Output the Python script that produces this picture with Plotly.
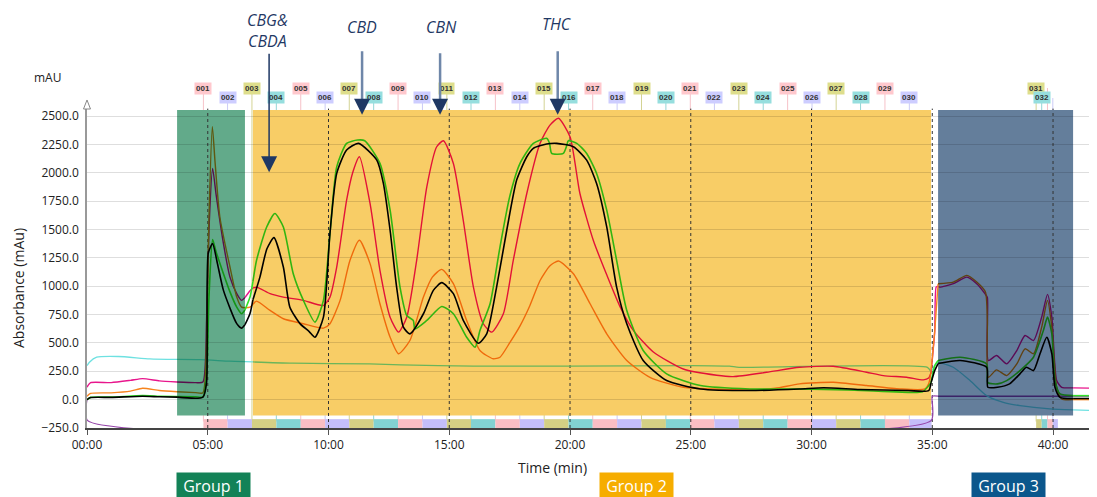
import plotly.graph_objects as go

# ---------------- data ----------------
time_ticks = [0, 5, 10, 15, 20, 25, 30, 35, 40]
time_labels = ["00:00", "05:00", "10:00", "15:00", "20:00", "25:00", "30:00", "35:00", "40:00"]

pink_t = [0, 0.15, 1.0, 1.8, 2.3, 3.0, 3.73, 4.5, 4.8, 4.95,
          5.05, 5.2, 5.35, 5.65, 5.92, 6.2, 6.4, 6.54, 6.75, 6.87,
          7.05, 7.58, 8.13, 8.96, 9.79, 10.06, 10.34, 10.75, 11.0, 11.28,
          11.72, 12.13, 12.55, 12.9, 13.24, 13.65, 14.07, 14.48, 14.76, 15.17,
          15.58, 16.0, 16.41, 16.76, 17.24, 17.65, 18.21, 18.76, 19.17, 19.52,
          20.0, 20.41, 20.97, 21.52, 22.07, 22.62, 23.45, 24.69, 26.07, 26.75,
          28.14, 29.5, 30.9, 32.28, 32.97, 33.94, 34.63, 34.85, 34.95, 35.1,
          35.16, 35.24, 35.3, 35.87, 36.43, 36.84, 37.18, 37.28, 37.32, 37.66,
          38.08, 38.5, 38.84, 39.19, 39.53, 39.77, 39.95, 40.15, 40.36, 40.83,
          41.82]
pink_v = [110, 150, 150, 170, 185, 165, 155, 150, 155, 700,
          1500, 2038, 1800, 1375, 1080, 934, 875, 900, 960, 985,
          990, 934, 904, 875, 830, 904, 1169, 1758, 2000, 2141,
          1729, 1140, 727, 595, 727, 1228, 1876, 2229, 2282, 2082,
          1581, 992, 669, 595, 757, 1228, 1817, 2259, 2420, 2480,
          2317, 1817, 1400, 1100, 820, 610, 420, 270, 215, 203,
          241, 285, 294, 241, 212, 197, 174, 190, 240, 600,
          992, 1000, 992, 1022, 1080, 1022, 934, 900, 345, 389,
          315, 433, 565, 521, 727, 928, 727, 168, 109, 104,
          100]

green_t = [0, 0.15, 1.0, 2.3, 3.0, 3.73, 4.5, 4.8, 4.95, 5.05,
           5.2, 5.35, 5.65, 5.92, 6.2, 6.4, 6.54, 6.75, 6.87, 7.02,
           7.44, 7.78, 8.13, 8.54, 8.96, 9.44, 9.79, 10.06, 10.34, 10.75,
           11.2, 11.5, 12.13, 12.55, 12.96, 13.24, 13.51, 13.58, 14.07, 14.69,
           15.17, 15.72, 16.07, 16.27, 16.69, 17.1, 17.5, 17.93, 18.48, 19.03,
           19.15, 19.24, 19.72, 19.85, 19.93, 20.28, 20.69, 21.1, 21.52, 21.93,
           22.35, 23.03, 24.0, 25.4, 27.45, 29.5, 31.5, 33.5, 34.6, 34.95,
           35.1, 35.24, 36.15, 37.25, 37.3, 37.7, 38.08, 38.63, 39.19, 39.6,
           39.77, 39.95, 40.08, 40.29, 40.83, 41.82]
green_v = [0, 20, 22, 35, 30, 28, 25, 25, 200, 900,
           1411, 1300, 1110, 950, 815, 757, 790, 904, 1040, 1228,
           1522, 1640, 1522, 1110, 875, 683, 875, 1464, 2052, 2259,
           2288, 2282, 2082, 1670, 992, 742, 698, 624, 698, 821,
           757, 550, 462, 609, 845, 1345, 1787, 2082, 2259, 2303,
           2260, 2170, 2170, 2230, 2282, 2259, 2170, 1994, 1670, 1228,
           786, 433, 227, 124, 94, 94, 85, 68, 70, 150,
           300, 345, 374, 315, 150, 139, 168, 256, 374, 609,
           727, 580, 168, 50, 35, 35]

black_t = [0, 0.15, 1.0, 2.3, 3.0, 3.73, 4.8, 4.95, 5.02, 5.2,
           5.4, 5.65, 6.2, 6.4, 6.54, 6.75, 6.87, 7.16, 7.45, 7.74,
           8.13, 8.4, 8.82, 9.2, 9.44, 9.79, 10.06, 10.34, 10.75, 11.24,
           12.0, 12.27, 12.55, 12.82, 13.1, 13.37, 13.93, 14.34, 14.69, 15.17,
           15.58, 16.2, 16.55, 16.96, 17.38, 17.79, 18.21, 18.48, 19.03, 19.45,
           20.14, 20.69, 21.1, 21.52, 21.93, 22.35, 23.03, 24.0, 25.4, 27.45,
           29.5, 30.5, 32.0, 34.0, 34.85, 34.95, 35.1, 35.24, 36.15, 37.25,
           37.3, 37.7, 38.2, 38.63, 38.9, 39.19, 39.46, 39.74, 39.95, 40.08,
           40.29, 40.83, 41.82]
black_v = [0, 18, 20, 30, 25, 22, 22, 150, 1290, 1375,
           1200, 963, 670, 630, 660, 760, 880, 1080, 1330, 1428,
           1169, 815, 670, 600, 550, 727, 1466, 1994, 2200, 2259,
           2111, 1908, 1493, 992, 639, 580, 757, 963, 1031, 934,
           698, 497, 580, 992, 1493, 1935, 2141, 2215, 2253, 2259,
           2229, 2111, 1905, 1522, 992, 669, 345, 168, 94, 80,
           94, 105, 90, 80, 80, 150, 256, 318, 345, 285,
           109, 109, 139, 227, 285, 256, 404, 550, 404, 109,
           20, 10, 10]

orange_t = [0, 0.15, 1.0, 1.8, 2.3, 3.0, 3.73, 4.5, 4.8, 4.95,
            5.05, 5.19, 5.3, 5.5, 5.92, 6.2, 6.4, 6.54, 6.75, 6.87,
            7.02, 7.58, 8.13, 8.96, 9.79, 10.06, 10.48, 10.89, 11.28, 11.72,
            12.13, 12.55, 12.9, 13.37, 13.93, 14.3, 14.69, 15.17, 15.72, 16.27,
            16.82, 17.1, 17.5, 17.93, 18.34, 18.76, 19.17, 19.52, 20.14, 20.83,
            21.52, 22.35, 23.31, 24.69, 27.45, 28.5, 29.5, 30.9, 32.28, 33.66,
            34.7, 34.85, 34.95, 35.1, 35.24, 35.87, 36.43, 36.84, 37.2, 37.28,
            37.32, 37.66, 38.08, 38.5, 38.84, 39.19, 39.53, 39.77, 39.95, 40.15,
            40.36, 40.83, 41.82]
orange_v = [30, 55, 60, 75, 100, 80, 70, 62, 60, 500,
            1600, 2406, 2100, 1610, 1169, 904, 815, 810, 815, 840,
            868, 786, 713, 669, 630, 669, 875, 1228, 1405, 1199,
            845, 550, 404, 521, 904, 1080, 1148, 1022, 698, 433,
            360, 374, 500, 650, 830, 1050, 1180, 1222, 1110, 845,
            580, 345, 197, 109, 86, 100, 139, 153, 124, 94,
            94, 139, 250, 600, 1022, 1036, 1095, 1036, 948, 700,
            197, 262, 212, 315, 448, 404, 639, 875, 639, 109,
            6, 0, 0]

cyan_t = [0, 0.1, 0.4, 1.3, 2.6, 3.73, 4.7, 5.9, 6.54, 6.87,
          8.5, 11.7, 13.0, 16.0, 20.0, 25.0, 26.6, 27.0, 34.8, 34.95,
          35.1, 35.24, 35.87, 36.56, 37.25, 37.94, 38.63, 39.87, 40.83, 41.82]
cyan_v = [300, 330, 374, 380, 360, 355, 353, 339, 335, 332,
          321, 315, 306, 296, 296, 300, 295, 285, 285, 245,
          300, 330, 285, 168, 35, -24, -53, -82, -90, -97]

purple_t = [0, 0.03, 34.95, 35.0, 35.24, 40.83, 41.82]
purple_v = [0, -185, -185, 30, 30, 30, 30]

fraction_labels = ["001", "002", "003", "004", "005", "006", "007", "008", "009", "010",
                   "011", "012", "013", "014", "015", "016", "017", "018", "019", "020",
                   "021", "022", "023", "024", "025", "026", "027", "028", "029", "030",
                   "031", "032", "", ""]
fraction_start = [4.82, 5.82, 6.83, 7.84, 8.85, 9.86, 10.86, 11.87, 12.88, 13.89,
                  14.90, 15.90, 16.91, 17.92, 18.93, 19.94, 20.94, 21.95, 22.96, 23.97,
                  24.98, 25.98, 26.99, 28.00, 29.01, 30.02, 31.02, 32.03, 33.04, 34.05,
                  39.30, 39.53, 39.77, 39.99]
fraction_end = [5.82, 6.83, 7.84, 8.85, 9.86, 10.86, 11.87, 12.88, 13.89, 14.90,
                15.90, 16.91, 17.92, 18.93, 19.94, 20.94, 21.95, 22.96, 23.97, 24.98,
                25.98, 26.99, 28.00, 29.01, 30.02, 31.02, 32.03, 33.04, 34.05, 34.97,
                39.53, 39.77, 39.99, 40.20]

group_names = ["Group 1", "Group 2", "Group 3"]
group_start = [3.73, 6.87, 35.24]
group_end = [6.54, 34.95, 40.83]
group_low, group_high = -139, 2553

peak_names = ["CBG&amp;<br>CBDA", "CBD", "CBN", "THC"]
peak_time = [7.54, 11.39, 14.62, 19.49]
peak_tip = [2005, 2510, 2510, 2510]

# ---------------- styling ----------------
REGION_RGB = [(98, 170, 138), (248, 205, 102), (100, 126, 155)]
GROUP_LABEL_BG = ["#138257", "#f6ad00", "#0b578c"]
FRAC_CELL = ["rgb(250,190,196)", "rgb(196,190,250)", "rgb(212,207,132)", "rgb(130,210,210)"]
FRAC_LINE = ["rgba(235,120,135,0.45)", "rgba(140,140,235,0.45)",
             "rgba(175,175,60,0.55)", "rgba(60,180,180,0.55)"]
FRAC_LABEL_BG = ["rgb(255,200,205)", "rgb(205,205,255)", "rgb(222,222,140)", "rgb(150,222,222)"]
NAVY = "#1f3864"

X0, X1 = 0, 41.82
Y0, Y1 = -250, 2597
# reference pixel geometry of the plot area
PLOT_L, PLOT_T, PLOT_B, PLOT_W = 87, 105, 428, 1010
PAGE_OFF = 8                      # page body margin
W, H = 1097 - PAGE_OFF, 497 - PAGE_OFF


def py_to_paper(py):
    return (PLOT_B - py) / (PLOT_B - PLOT_T)


def px_to_paper(px):
    return (px - PLOT_L) / PLOT_W


fig = go.Figure()


def region_rgb(t, v):
    for a, b, rgb in zip(group_start, group_end, REGION_RGB):
        if a <= t <= b and group_low <= v <= group_high:
            return rgb
    return (255, 255, 255)


def blend(c, r):
    return "rgb(%d,%d,%d)" % tuple(round(ci * ri / 255) for ci, ri in zip(c, r))


def add_series(ts, vs, base, width):
    assert len(ts) == len(vs)
    n = len(ts)
    regs = [region_rgb((ts[i] + ts[i + 1]) / 2, (vs[i] + vs[i + 1]) / 2) for i in range(n - 1)]
    i = 0
    while i < n - 1:
        j = i
        while j + 1 < n - 1 and regs[j + 1] == regs[i]:
            j += 1
        fig.add_trace(go.Scatter(
            x=ts[i:j + 2], y=vs[i:j + 2], mode="lines",
            line=dict(color=blend(base, regs[i]), width=width, shape="spline", smoothing=0.6),
            hoverinfo="skip", showlegend=False))
        i = j + 1


add_series(purple_t, purple_v, (150, 70, 170), 1.3)
add_series(cyan_t, cyan_v, (110, 225, 225), 1.3)
add_series(pink_t, pink_v, (232, 22, 140), 1.4)
add_series(orange_t, orange_v, (246, 132, 30), 1.4)
add_series(green_t, green_v, (50, 225, 40), 1.6)
add_series(black_t, black_v, (0, 0, 0), 1.6)

shapes = []
for a, b, rgb in zip(group_start, group_end, REGION_RGB):
    shapes.append(dict(type="rect", xref="x", yref="y", x0=a, x1=b, y0=group_low, y1=group_high,
                       fillcolor="rgb(%d,%d,%d)" % rgb, line=dict(width=0), layer="below"))
for k, (a, b) in enumerate(zip(fraction_start, fraction_end)):
    shapes.append(dict(type="rect", xref="x", yref="y", x0=a, x1=b, y0=Y0, y1=-172,
                       fillcolor=FRAC_CELL[k % 4], line=dict(width=0), layer="below"))
    top = py_to_paper(88) if k % 2 == 0 else py_to_paper(98)
    shapes.append(dict(type="line", xref="x", yref="paper", x0=a, x1=a, y0=0.02, y1=top,
                       line=dict(color=FRAC_LINE[k % 4], width=1), layer="below"))
for t in time_ticks[1:]:
    shapes.append(dict(type="line", xref="x", yref="y", x0=t, x1=t, y0=Y0, y1=2565,
                       line=dict(color="#333333", width=1, dash="dot"), layer="below"))
tri_w = 3.5 / PLOT_W
shapes.append(dict(type="path", xref="paper", yref="paper",
                   path="M %f,%f L 0,%f L %f,%f Z" % (-tri_w, py_to_paper(109), py_to_paper(100),
                                                   tri_w, py_to_paper(109)),
                   fillcolor="white", line=dict(color="#888888", width=1)))

annotations = []
for k, (lab, a) in enumerate(zip(fraction_labels, fraction_start)):
    if not lab:
        continue
    annotations.append(dict(x=a, y=py_to_paper(88) if k % 2 == 0 else py_to_paper(98),
                            xref="x", yref="paper", xanchor="center", yanchor="middle",
                            text="<b>%s</b>" % lab, showarrow=False,
                            font=dict(size=8, color="#333333", family="Arial"),
                            bgcolor=FRAC_LABEL_BG[k % 4], borderpad=1))
group_centre_px = [213, 636, 1008]
for name, cx, bg in zip(group_names, group_centre_px, GROUP_LABEL_BG):
    annotations.append(dict(x=px_to_paper(cx), y=py_to_paper(472),
                            xref="paper", yref="paper", xanchor="center", yanchor="top",
                            text="&nbsp;" + name + "&nbsp;", showarrow=False,
                            font=dict(size=16, color="white", family="Open Sans"),
                            bgcolor=bg, borderpad=2))
text_pos = [(267, 30), (362, 27), (441, 27), (557, 24)]
tail_py = [52, 47, 49, 47]
tip_py = [172, 112, 112, 112]
for k, (name, t, v) in enumerate(zip(peak_names, peak_time, peak_tip)):
    annotations.append(dict(x=px_to_paper(text_pos[k][0]), y=py_to_paper(text_pos[k][1]),
                            xref="paper", yref="paper", xanchor="center", yanchor="middle",
                            text="<i>%s</i>" % name, showarrow=False,
                            font=dict(size=16, color=NAVY, family="Open Sans")))
    line_col = NAVY if k == 0 else "#6f87a9"
    lw = 1.5 if k == 0 else 2.5
    annotations.append(dict(x=t, y=v, xref="x", yref="y", text="", showarrow=True,
                            ax=0, ay=-(tip_py[k] - tail_py[k]), arrowhead=0,
                            arrowwidth=lw, arrowcolor=line_col, standoff=6))
    annotations.append(dict(x=t, y=v, xref="x", yref="y", text="", showarrow=True,
                            ax=0, ay=-16, arrowhead=2, arrowsize=2.0, arrowwidth=1.6,
                            arrowcolor=NAVY, standoff=0))
annotations.append(dict(x=px_to_paper(47), y=py_to_paper(77), xref="paper", yref="paper",
                        xanchor="center", yanchor="middle",
                        text="mAU", showarrow=False, font=dict(size=12, color="#222222")))
annotations.append(dict(x=px_to_paper(18), y=py_to_paper(288), xref="paper", yref="paper",
                        xanchor="center", yanchor="middle",
                        text="Absorbance (mAu)", textangle=-90, showarrow=False,
                        font=dict(size=14, color="#222222")))
annotations.append(dict(x=px_to_paper(552), y=py_to_paper(467), xref="paper", yref="paper",
                        xanchor="center", yanchor="middle",
                        text="Time (min)", showarrow=False, font=dict(size=14, color="#222222")))

fig.update_layout(
    width=W, height=H,
    margin=dict(l=PLOT_L - PAGE_OFF, r=W - (PLOT_L - PAGE_OFF) - PLOT_W,
                t=PLOT_T - PAGE_OFF, b=H - (PLOT_B - PAGE_OFF)),
    paper_bgcolor="white", plot_bgcolor="white",
    font=dict(family="Open Sans", size=12, color="#222222"),
    showlegend=False,
    shapes=shapes, annotations=annotations,
    xaxis=dict(range=[X0, X1], tickvals=time_ticks, ticktext=time_labels, showgrid=False,
               zeroline=False, showline=True, linecolor="#444444", linewidth=1.5,
               ticks="outside", ticklen=5, tickcolor="#555555", tickfont=dict(size=12)),
    yaxis=dict(range=[Y0, Y1], dtick=250, tick0=0, tickformat=".1f", showgrid=True,
               gridcolor="rgba(0,0,0,0.13)", gridwidth=1, zeroline=False, showline=True,
               linecolor="#999999", linewidth=1.5, ticks="", tickfont=dict(size=12),
               ticklabelstandoff=4),
)

fig.write_html("out.html")
